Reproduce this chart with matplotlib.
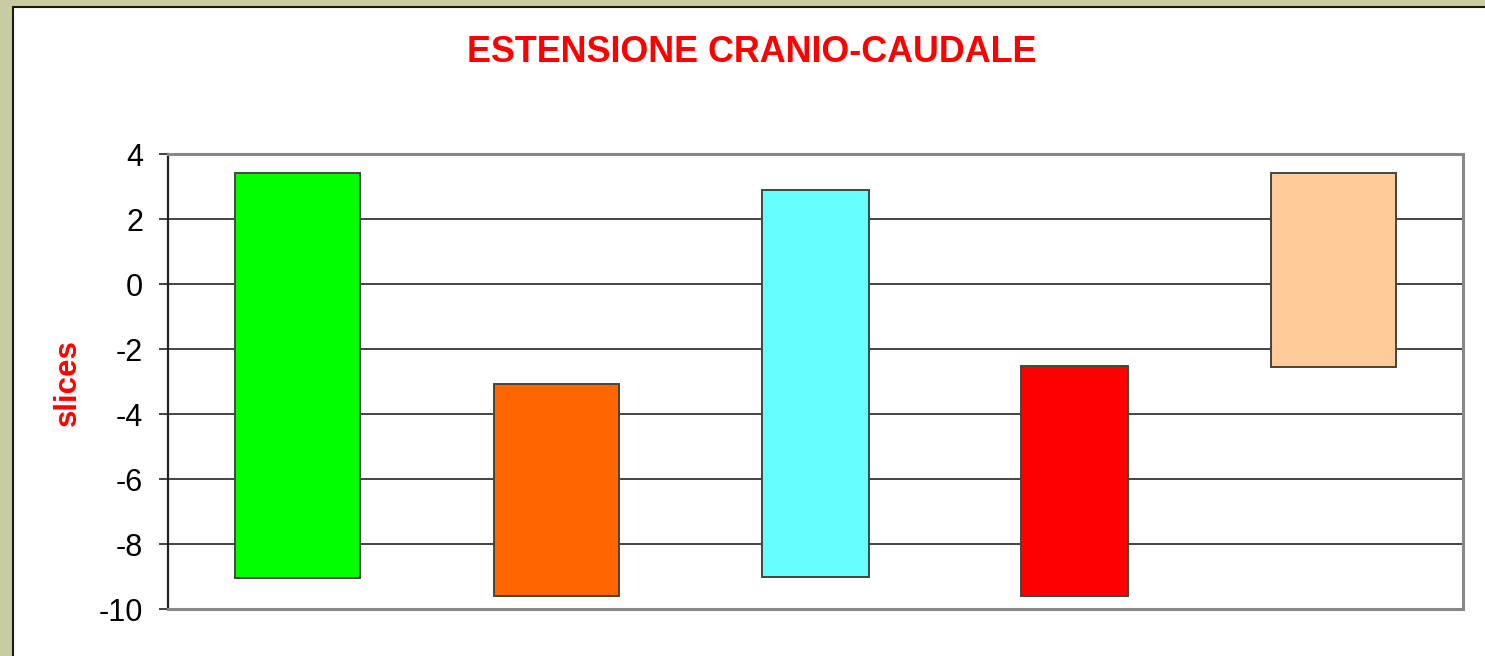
import numpy as np
import matplotlib.pyplot as plt
from matplotlib.patches import Rectangle

# floating bars: each column spans from a low to a high value (slices)
categories = ["A", "B", "C", "D", "E"]
lows = [-9.05, -9.58, -9.0, -9.58, -2.53]
highs = [3.43, -3.07, 2.9, -2.5, 3.44]
bar_colors = ["#00ff00", "#ff6600", "#66ffff", "#ff0000", "#ffcc99"]
bar_widths = [0.48, 0.48, 0.41, 0.41, 0.48]
yticks = [4, 2, 0, -2, -4, -6, -8, -10]

plt.rcParams["font.family"] = ["Liberation Sans", "DejaVu Sans"]

fig = plt.figure(figsize=(14.85, 6.56), dpi=100)
fig.patch.set_facecolor("#c9cca2")

# white chart panel with a dark edge on the left and top
panel = Rectangle((13 / 1485, -0.05), 1.2, 1.05 - 7 / 656,
                  transform=fig.transFigure, facecolor="white",
                  edgecolor="#1a1a1a", linewidth=1.5, zorder=-1)
fig.patches.append(panel)

ax = fig.add_axes([168 / 1485, 1 - 609.3 / 656, (1463 - 168) / 1485, (609.3 - 154.3) / 656])
ax.set_facecolor("white")

x = np.arange(len(categories))
heights = np.array(highs) - np.array(lows)
ax.bar(x, heights, bottom=lows, width=bar_widths, color=bar_colors,
       edgecolor="#45453a", linewidth=1.4, zorder=3)

ax.set_xlim(-0.5, len(categories) - 0.5)
ax.set_ylim(-10, 4)
ax.set_yticks(yticks)
ax.set_yticklabels([str(t) for t in yticks])
ax.set_xticks([])

for t in yticks[1:-1]:
    ax.axhline(t, color="#111111", linewidth=1.1, zorder=1)

for side in ("top", "right", "bottom"):
    ax.spines[side].set_color("#888888")
    ax.spines[side].set_linewidth(2.2)
ax.spines["left"].set_color("#222222")
ax.spines["left"].set_linewidth(1.6)

ax.tick_params(axis="y", direction="out", length=6.5, width=1.2, color="#222222",
               labelsize=22, pad=11.5)

fig.text(68 / 1485, 1 - 383 / 656, "slices", color="red", fontsize=22.5,
         fontweight="bold", rotation=90, ha="center", va="center")

fig.text(752 / 1485, 1 - 53 / 656, "ESTENSIONE CRANIO-CAUDALE", color="red",
         fontsize=25.8, fontweight="bold", ha="center", va="center")

fig.savefig("out.png", dpi=100, facecolor=fig.get_facecolor())
